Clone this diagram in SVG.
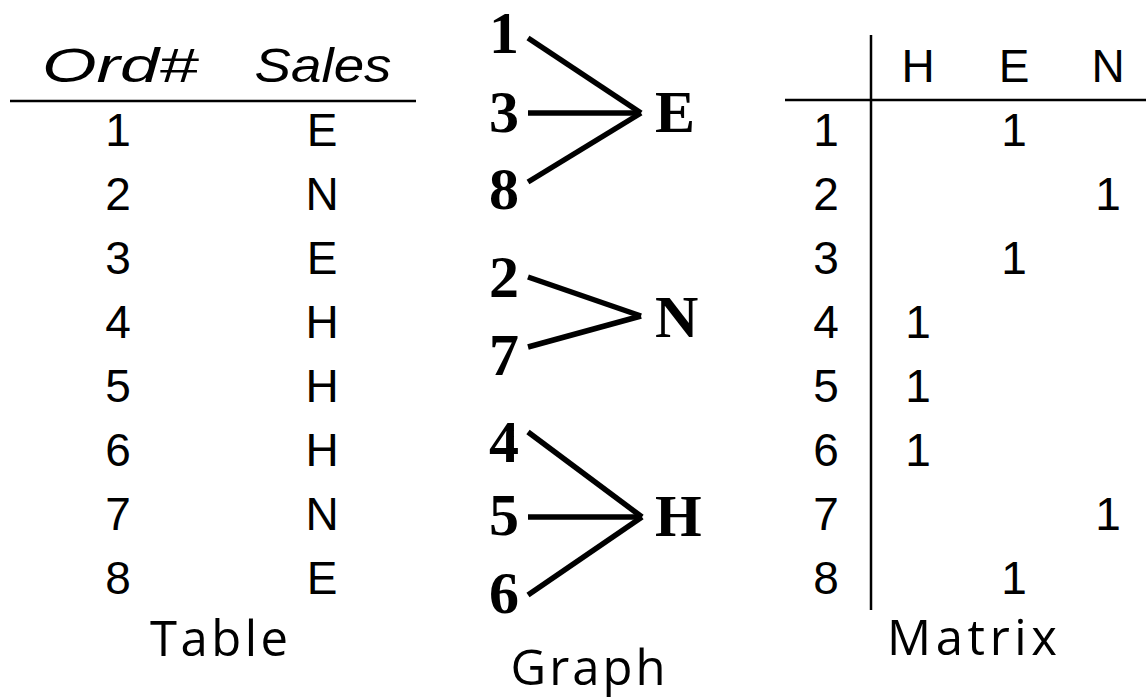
<svg xmlns="http://www.w3.org/2000/svg" width="1146" height="698" viewBox="0 0 1146 698">
<style>
.t{font-family:"Liberation Sans","DejaVu Sans",sans-serif;font-size:46px;fill:#000;text-anchor:middle}
.i{font-style:italic;font-size:48px}
.c{font-family:"Open Sans","Noto Sans",sans-serif;font-size:49px;fill:#000;text-anchor:middle}
.g{font-family:"Liberation Serif","Times New Roman",serif;font-weight:bold;font-size:60px;fill:#000}
.r{stroke:#000;stroke-width:2.5;fill:none}
.e{stroke:#000;stroke-width:5.5;fill:none;stroke-linecap:butt}
</style>
<rect width="1146" height="698" fill="#fff"/>
<g id="table">
<text class="t i" x="120" y="82" textLength="156" lengthAdjust="spacingAndGlyphs">Ord#</text>
<text class="t i" x="323" y="82" textLength="137" lengthAdjust="spacingAndGlyphs">Sales</text>
<line class="r" x1="10" y1="101" x2="416" y2="101"/>
<g class="t">
<text x="118" y="146">1</text><text x="322" y="146">E</text>
<text x="118" y="210">2</text><text x="322" y="210">N</text>
<text x="118" y="274">3</text><text x="322" y="274">E</text>
<text x="118" y="338">4</text><text x="322" y="338">H</text>
<text x="118" y="402">5</text><text x="322" y="402">H</text>
<text x="118" y="466">6</text><text x="322" y="466">H</text>
<text x="118" y="530">7</text><text x="322" y="530">N</text>
<text x="118" y="594">8</text><text x="322" y="594">E</text>
</g>
<text class="c" x="219" y="656" textLength="138" lengthAdjust="spacing">Table</text>
</g>
<g id="connectors">
<line class="e" x1="528" y1="38" x2="641" y2="113"/>
<line class="e" x1="528" y1="113" x2="641" y2="113"/>
<line class="e" x1="528" y1="182" x2="641" y2="113"/>
<line class="e" x1="528" y1="277" x2="641" y2="316"/>
<line class="e" x1="528" y1="347" x2="641" y2="316"/>
<line class="e" x1="528" y1="432" x2="642" y2="517"/>
<line class="e" x1="528" y1="517" x2="642" y2="517"/>
<line class="e" x1="528" y1="595" x2="642" y2="517"/>
</g>
<g id="n1"><text class="g" x="489" y="53">1</text></g>
<g id="n3"><text class="g" x="489" y="132">3</text></g>
<g id="n8"><text class="g" x="489" y="209">8</text></g>
<g id="nE"><text class="g" x="655" y="132">E</text></g>
<g id="n2"><text class="g" x="489" y="297">2</text></g>
<g id="n7"><text class="g" x="489" y="375">7</text></g>
<g id="nN"><text class="g" x="655" y="337">N</text></g>
<g id="n4"><text class="g" x="489" y="462">4</text></g>
<g id="n5"><text class="g" x="489" y="535">5</text></g>
<g id="n6"><text class="g" x="489" y="613">6</text></g>
<g id="nH"><text class="g" x="655" y="536">H</text></g>
<text class="c" x="588" y="685" textLength="155" lengthAdjust="spacing">Graph</text>
<g id="matrix">
<line class="r" x1="871" y1="35" x2="871" y2="610"/>
<line class="r" x1="785" y1="100" x2="1146" y2="100"/>
<g class="t">
<text x="918" y="82">H</text><text x="1014" y="82">E</text><text x="1108" y="82">N</text>
<text x="826" y="146">1</text><text x="1014" y="146">1</text>
<text x="826" y="210">2</text><text x="1108" y="210">1</text>
<text x="826" y="274">3</text><text x="1014" y="274">1</text>
<text x="826" y="338">4</text><text x="918" y="338">1</text>
<text x="826" y="402">5</text><text x="918" y="402">1</text>
<text x="826" y="466">6</text><text x="918" y="466">1</text>
<text x="826" y="530">7</text><text x="1108" y="530">1</text>
<text x="826" y="594">8</text><text x="1014" y="594">1</text>
</g>
<text class="c" x="972" y="655" textLength="170" lengthAdjust="spacing">Matrix</text>
</g>
</svg>
